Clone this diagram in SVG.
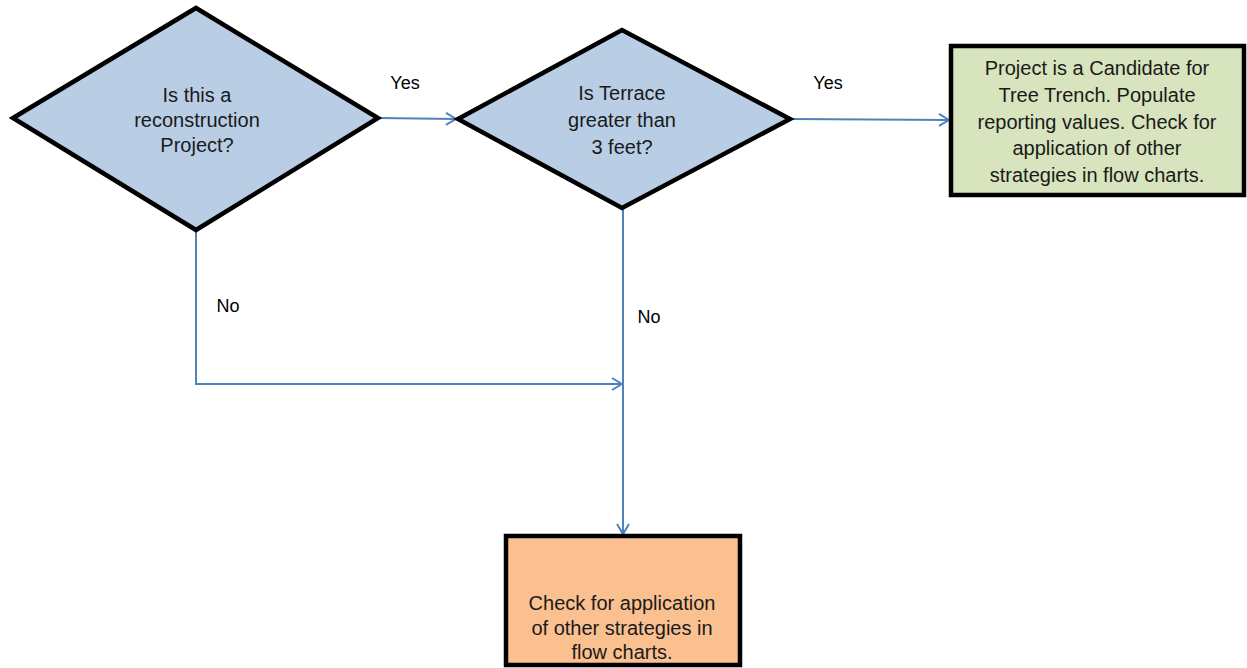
<svg xmlns="http://www.w3.org/2000/svg" width="1247" height="668" viewBox="0 0 1247 668">
  <defs>
    <style>
      .shape { stroke: #000; stroke-width: 4.5; stroke-linejoin: miter; }
      .dec { fill: #b9cde5; }
      .yes { fill: #d7e4bd; }
      .no { fill: #fac090; }
      .txt { font-family: "Liberation Sans", Arial, sans-serif; font-size: 20px; fill: #1a1a1a; text-anchor: middle; }
      .lbl { font-family: "Liberation Sans", Arial, sans-serif; font-size: 18px; fill: #000; text-anchor: middle; }
      .conn { fill: none; stroke: #4f81bd; stroke-width: 2; }
    </style>
    <marker id="arrow" viewBox="0 0 12 14" refX="11" refY="7" markerWidth="12" markerHeight="14" markerUnits="userSpaceOnUse" orient="auto">
      <path d="M1,1 L11,7 L1,13" fill="none" stroke="#4f81bd" stroke-width="2"/>
    </marker>
  </defs>
  <rect width="1247" height="668" fill="#ffffff"/>

  <g id="connectors">
    <path class="conn" d="M378,118 L456,119" marker-end="url(#arrow)"/>
    <path class="conn" d="M790,119 L949,120" marker-end="url(#arrow)"/>
    <path class="conn" d="M196,230 L196,384 L622,384" marker-end="url(#arrow)"/>
    <path class="conn" d="M623,208 L623,534" marker-end="url(#arrow)"/>
    <text class="lbl" x="405" y="89">Yes</text>
    <text class="lbl" x="828" y="89">Yes</text>
    <text class="lbl" x="228" y="312">No</text>
    <text class="lbl" x="649" y="323">No</text>
  </g>

  <g id="reconstruction">
    <polygon class="shape dec" points="13,118 196,8 378,118 196,230"/>
    <text class="txt" x="197" y="102">Is this a</text>
    <text class="txt" x="197" y="127">reconstruction</text>
    <text class="txt" x="197" y="152">Project?</text>
  </g>

  <g id="terrace">
    <polygon class="shape dec" points="458,119 622,30 790,119 622,208"/>
    <text class="txt" x="622" y="100">Is Terrace</text>
    <text class="txt" x="622" y="127">greater than</text>
    <text class="txt" x="622" y="154">3 feet?</text>
  </g>

  <g id="candidate">
    <rect class="shape yes" x="951" y="46" width="293" height="149"/>
    <text class="txt" x="1097" y="75">Project is a Candidate for</text>
    <text class="txt" x="1097" y="102">Tree Trench. Populate</text>
    <text class="txt" x="1097" y="129">reporting values. Check for</text>
    <text class="txt" x="1097" y="155">application of other</text>
    <text class="txt" x="1097" y="182">strategies in flow charts.</text>
  </g>

  <g id="check">
    <rect class="shape no" x="506" y="536" width="234" height="129"/>
    <text class="txt" x="622" y="610">Check for application</text>
    <text class="txt" x="622" y="635">of other strategies in</text>
    <text class="txt" x="622" y="659">flow charts.</text>
  </g>
</svg>
